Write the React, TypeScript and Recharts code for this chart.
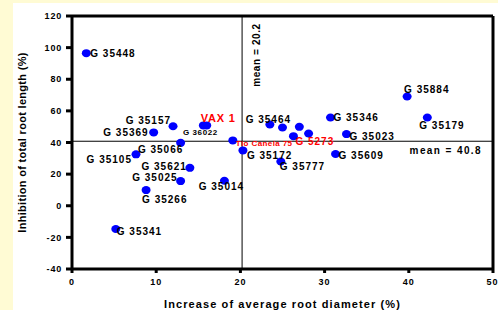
import { ScatterChart, Scatter, XAxis, YAxis, ReferenceLine, LabelList } from 'recharts'

// genotype names, root diameter increase (%) and root length inhibition (%)
const names = [
  'G 35448', 'G 35157', 'VAX 1', 'G 36022', 'G 35369', 'G 35066', 'G 35105', 'G 35621',
  'G 35025', 'G 35266', 'G 35014', 'G 35341', 'Tio Canela 75', 'G 35172', 'G 35777', 'G 35464',
  '', '', 'G 5273', '', 'G 35346', 'G 35023', 'G 35609', 'G 35884', 'G 35179',
]
const diameterIncrease = [
  1.7, 12.0, 16.0, 15.6, 9.7, 12.9, 7.6, 14.0,
  12.9, 8.8, 18.1, 5.2, 19.1, 20.3, 24.8, 23.5,
  25.0, 27.0, 26.3, 28.1, 30.7, 32.6, 31.3, 39.8, 42.2,
]
const lengthInhibition = [
  96.5, 50.3, 50.8, 50.8, 46.4, 39.8, 32.5, 24.0,
  15.6, 9.9, 15.8, -14.7, 41.3, 35.0, 28.0, 51.4,
  49.5, 49.9, 44.0, 45.7, 55.8, 45.3, 32.7, 69.1, 55.8,
]
const xTicks = [0, 10, 20, 30, 40, 50]
const yTicks = [-40, -20, 0, 20, 40, 60, 80, 100, 120]
const meanX = 20.2
const meanY = 40.8

const data = names.map((name, i) => ({ name, x: diameterIncrease[i], y: lengthInhibition[i] }))

const FONT = '"Liberation Sans", Arial, sans-serif'

// where each label sits relative to its dot
const place: Record<string, { dx: number; dy: number; anchor?: string; color?: string; size?: number; ls?: number }> = {
  'G 35448': { dx: 4, dy: 0 },
  'G 35157': { dx: -2, dy: -6, anchor: 'end' },
  'VAX 1': { dx: -6, dy: -7, color: '#ff0000', size: 11, ls: 0.8 },
  'G 36022': { dx: -3, dy: 7, anchor: 'middle', size: 8, ls: 0.6 },
  'G 35369': { dx: -5, dy: 0, anchor: 'end' },
  'G 35066': { dx: -20, dy: 6.5, anchor: 'middle' },
  'G 35105': { dx: -4, dy: 5, anchor: 'end' },
  'G 35621': { dx: -3, dy: -1.5, anchor: 'end' },
  'G 35025': { dx: -3, dy: -4, anchor: 'end' },
  'G 35266': { dx: -4, dy: 9 },
  'G 35014': { dx: -3, dy: 6, anchor: 'middle' },
  'G 35341': { dx: 1, dy: 3 },
  'Tio Canela 75': { dx: 3, dy: 3.5, color: '#ff0000', size: 8, ls: 0.4 },
  'G 35172': { dx: 4, dy: 5 },
  'G 35777': { dx: -1, dy: 5 },
  'G 35464': { dx: -1.5, dy: -5, anchor: 'middle' },
  'G 5273': { dx: 2, dy: 5, color: '#ff0000' },
  'G 35346': { dx: 3, dy: 0 },
  'G 35023': { dx: 3, dy: 2 },
  'G 35609': { dx: 3, dy: 1 },
  'G 35884': { dx: -3, dy: -7 },
  'G 35179': { dx: -8, dy: 7.5 },
}

const PointLabel = (props: any) => {
  const { x, y, width, height, value } = props
  if (!value || !place[value]) return null
  const p = place[value]
  const cx = x + width / 2
  const cy = y + height / 2
  return (
    <text x={cx + p.dx} y={cy + p.dy} textAnchor={p.anchor ?? 'start'} dominantBaseline="central"
      fontFamily={FONT} fontWeight="bold" fontSize={p.size ?? 10} letterSpacing={p.ls ?? 1}
      fill={p.color ?? '#000'}>
      {value}
    </text>
  )
}

const Dot = (props: any) => <ellipse cx={props.cx} cy={props.cy} rx={4.5} ry={4} fill="#0000ff" />

export default function App() {
  return (
    <div style={{ position: 'absolute', left: 0, top: 0, width: 498, height: 310, background: '#fffbd4' }}>
      <div style={{ position: 'absolute', left: 13, top: 3, right: 0, bottom: 0, background: '#fff' }} />
      <div style={{ position: 'absolute', left: 0, top: 0 }}>
        <ScatterChart width={498} height={310} margin={{ top: 16, right: 5, bottom: 0, left: 0 }}>
          <XAxis type="number" dataKey="x" domain={[0, 50]} ticks={xTicks} height={41}
            axisLine={{ stroke: '#000', strokeWidth: 3 }} tickLine={{ stroke: '#000', strokeWidth: 3 }}
            tickSize={4} tickMargin={6}
            tick={{ fill: '#000', fontSize: 9, fontWeight: 'bold', fontFamily: FONT, letterSpacing: 1 }}
            label={{ value: 'Increase of average root diameter (%)', position: 'insideBottom', offset: 2,
              style: { fill: '#000', fontSize: 11, fontWeight: 'bold', fontFamily: FONT, letterSpacing: 1.1 } }} />
          <YAxis type="number" dataKey="y" domain={[-40, 120]} ticks={yTicks} width={72}
            axisLine={{ stroke: '#000', strokeWidth: 3 }} tickLine={{ stroke: '#000', strokeWidth: 3 }}
            tickSize={6} tickMargin={4}
            tick={{ fill: '#000', fontSize: 9, fontWeight: 'bold', fontFamily: FONT, letterSpacing: 0.8 }}
            label={{ value: 'Inhibition of total root length (%)', angle: -90, position: 'insideLeft', offset: 22,
              style: { textAnchor: 'middle', fill: '#000', fontSize: 11, fontWeight: 'bold', fontFamily: FONT, letterSpacing: 0.3 } }} />
          <ReferenceLine y={120} stroke="#000" strokeWidth={3} />
          <ReferenceLine x={50} stroke="#000" strokeWidth={3} />
          <ReferenceLine x={meanX} stroke="#000" strokeWidth={1}
            label={(lp: any) => {
              const vb = lp.viewBox
              const tx = vb.x + 14
              const ty = vb.y + 39
              return (
                <text x={tx} y={ty} transform={`rotate(-90 ${tx} ${ty})`} textAnchor="middle" dominantBaseline="central"
                  fontFamily={FONT} fontSize={10} fontWeight="bold" letterSpacing={0.6} fill="#000">
                  mean = {meanX}
                </text>
              )
            }} />
          <ReferenceLine y={meanY} stroke="#000" strokeWidth={1}
            label={(lp: any) => {
              const vb = lp.viewBox
              return (
                <text x={vb.x + vb.width - 11} y={vb.y + 9} textAnchor="end" dominantBaseline="central"
                  fontFamily={FONT} fontSize={10} fontWeight="bold" letterSpacing={1.4} fill="#000">
                  mean = {meanY}
                </text>
              )
            }} />
          <Scatter data={data} shape={Dot} isAnimationActive={false}>
            <LabelList dataKey="name" content={PointLabel} />
          </Scatter>
        </ScatterChart>
      </div>
    </div>
  )
}
